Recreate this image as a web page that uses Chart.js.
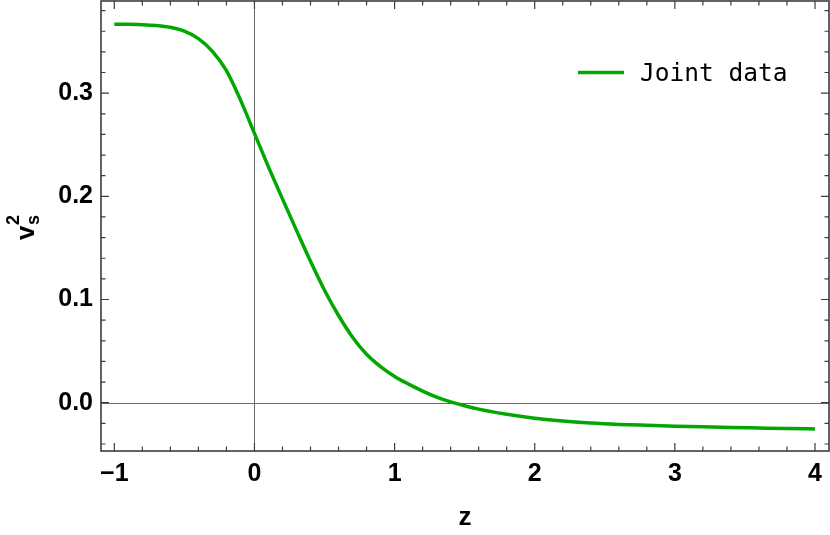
<!DOCTYPE html>
<html>
<head>
<meta charset="utf-8">
<script src="https://cdn.jsdelivr.net/npm/chart.js@4.4.1/dist/chart.umd.min.js"></script>
<style>
html,body{margin:0;padding:0;background:#fff;}
#wrap{width:830px;height:535px;position:relative;}
</style>
</head>
<body>
<div id="wrap"><canvas id="c" width="830" height="535"></canvas></div>
<script>
// ---- data ----
const zValues = [-1.0,-0.9,-0.8,-0.7,-0.6,-0.5,-0.4,-0.3,-0.2,-0.1,0.0,0.1,0.2,0.3,0.4,0.5,0.6,0.7,0.8,0.9,1.0,1.1,1.2,1.3,1.4,1.5,1.6,1.7,1.8,2.0,2.2,2.4,2.6,2.8,3.0,3.2,3.4,3.6,3.8,4.0];
const vs2Values = [0.3668,0.3667,0.3664,0.3656,0.3638,0.3600,0.3528,0.3405,0.3218,0.2935,0.2610,0.2285,0.1975,0.1670,0.1370,0.1090,0.0845,0.0635,0.0470,0.0350,0.0255,0.0180,0.0113,0.0055,0.0008,-0.0030,-0.0062,-0.0089,-0.0112,-0.0150,-0.0178,-0.0197,-0.0210,-0.0219,-0.0227,-0.0234,-0.0240,-0.0245,-0.0250,-0.0254];
const xTickValues = [-1,0,1,2,3,4];
const yTickValues = [0.0,0.1,0.2,0.3];
const seriesLabel = "Joint data";
const xTitle = "z";

const GREEN = '#00a800';
const FRAME = '#3c3c3c';
const TICKFONT = {family:"'Liberation Sans', Arial, sans-serif", size:25, weight:'bold'};

const framePlugin = {
  id:'frame',
  beforeDatasetsDraw(chart){
    const {ctx, chartArea:a, scales:{x,y}} = chart;
    ctx.save();
    ctx.strokeStyle = '#6a6a6a';
    ctx.lineWidth = 1;
    const x0 = Math.round(x.getPixelForValue(0))+0.5;
    const y0 = Math.round(y.getPixelForValue(0))+0.5;
    ctx.beginPath();
    ctx.moveTo(x0, a.top); ctx.lineTo(x0, a.bottom);
    ctx.moveTo(a.left, y0); ctx.lineTo(a.right, y0);
    ctx.stroke();
    ctx.restore();
  },
  afterDraw(chart){
    const {ctx, chartArea:a, scales:{x,y}} = chart;
    ctx.save();
    ctx.strokeStyle = FRAME;
    ctx.lineWidth = 1.2;
    ctx.beginPath();
    for(let k=-5;k<=20;k++){
      const v = k*0.2;
      const px = x.getPixelForValue(v);
      if(px < a.left+1 || px > a.right-1) continue;
      const len = (k%5===0)?8:4.5;
      ctx.moveTo(px, a.bottom); ctx.lineTo(px, a.bottom-len);
      ctx.moveTo(px, a.top); ctx.lineTo(px, a.top+len);
    }
    for(let k=-2;k<=19;k++){
      const v = k*0.02;
      const py = y.getPixelForValue(v);
      if(py < a.top+1 || py > a.bottom-1) continue;
      const len = (k%5===0)?8:4.5;
      ctx.moveTo(a.left, py); ctx.lineTo(a.left+len, py);
      ctx.moveTo(a.right, py); ctx.lineTo(a.right-len, py);
    }
    ctx.stroke();
    ctx.lineWidth = 1.6;
    ctx.strokeRect(a.left, a.top, a.right-a.left, a.bottom-a.top);

    // legend
    const ds = chart.data.datasets[0];
    ctx.strokeStyle = ds.borderColor;
    ctx.lineWidth = 3.5;
    ctx.beginPath();
    ctx.moveTo(578, 72.5); ctx.lineTo(624, 72.5);
    ctx.stroke();
    ctx.fillStyle = '#000';
    ctx.font = "24.5px 'DejaVu Sans Mono', monospace";
    ctx.textAlign = 'left';
    ctx.textBaseline = 'alphabetic';
    ctx.fillText(ds.label, 640, 81);

    // y-axis title v_s^2
    ctx.translate(34, 228);
    ctx.rotate(-Math.PI/2);
    ctx.font = "bold 26px 'Liberation Sans', Arial, sans-serif";
    const vW = ctx.measureText('v').width;
    const x0 = -12;
    ctx.fillText('v', x0, 0);
    ctx.font = "bold 18px 'Liberation Sans', Arial, sans-serif";
    ctx.fillText('2', x0+vW+0.5, -15);
    ctx.fillText('s', x0+vW+0.5, 5);
    ctx.restore();
  }
};

new Chart(document.getElementById('c'), {
  type:'line',
  data:{
    datasets:[{
      label: seriesLabel,
      data: zValues.map((z,i)=>({x:z, y:vs2Values[i]})),
      borderColor: GREEN,
      backgroundColor: GREEN,
      borderWidth: 3.5,
      pointRadius: 0,
      cubicInterpolationMode:'monotone',
      fill:false
    }]
  },
  options:{
    responsive:false,
    devicePixelRatio:1,
    animation:false,
    layout:{padding:{top:1,right:1,left:0,bottom:0}},
    plugins:{legend:{display:false}, tooltip:{enabled:false}},
    scales:{
      x:{
        type:'linear',
        min:-1.095, max:4.1,
        grid:{display:false, drawTicks:false},
        border:{display:false},
        afterBuildTicks(s){ s.ticks = xTickValues.map(v=>({value:v})); },
        afterFit(s){ s.height = 84; s.paddingLeft = 0; s.paddingRight = 0; },
        ticks:{
          color:'#000', font:TICKFONT, padding:8, maxRotation:0, autoSkip:false,
          callback:(v)=> v<0 ? '\u2212'+Math.abs(v) : String(v)
        },
        title:{display:true, text:xTitle, color:'#000', font:{family:"'Liberation Sans', Arial, sans-serif", size:26, weight:'bold'}, padding:{top:0,bottom:2}}
      },
      y:{
        type:'linear',
        min:-0.0468, max:0.3893,
        grid:{display:false, drawTicks:false},
        border:{display:false},
        afterBuildTicks(s){ s.ticks = yTickValues.map(v=>({value:v})); },
        afterFit(s){ s.width = 101; s.paddingTop = 0; s.paddingBottom = 0; },
        ticks:{
          color:'#000', font:TICKFONT, padding:8, autoSkip:false,
          callback:(v)=> Number(v).toFixed(1)
        }
      }
    }
  },
  plugins:[framePlugin]
});
</script>
</body>
</html>
